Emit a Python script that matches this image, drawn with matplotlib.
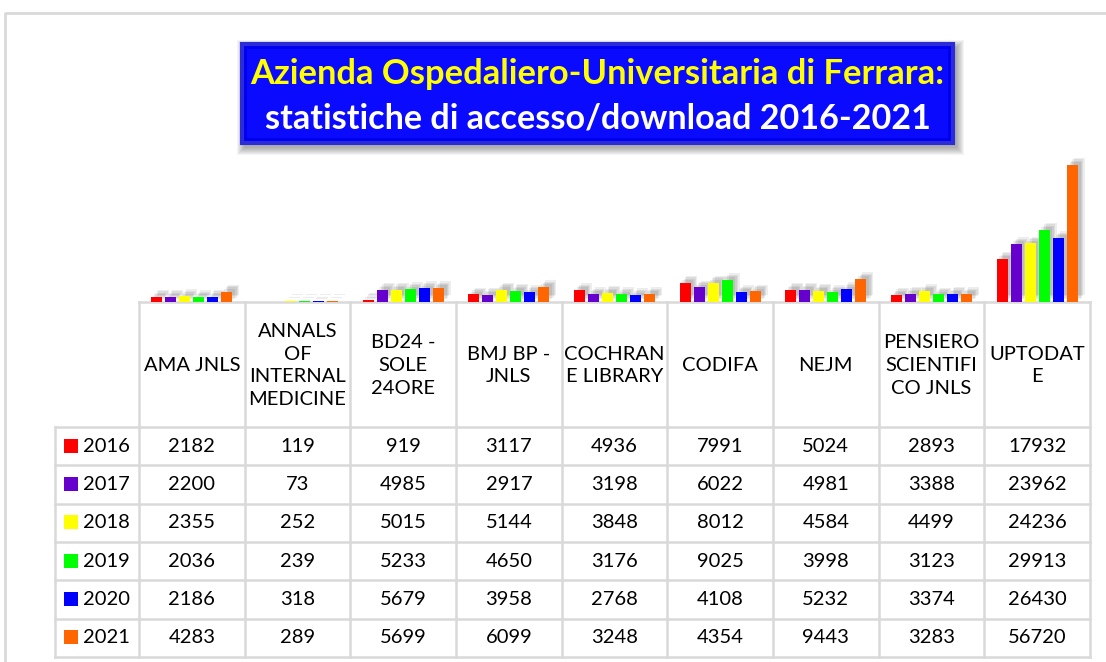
import matplotlib
matplotlib.use("Agg")
import matplotlib.pyplot as plt
import matplotlib.patheffects as pe
from matplotlib.patches import Rectangle
import numpy as np

plt.rcParams['font.family'] = ['Lato', 'DejaVu Sans']

journals = ["AMA JNLS", "ANNALS\nOF\nINTERNAL\nMEDICINE", "BD24 -\nSOLE\n24ORE",
            "BMJ BP -\nJNLS", "COCHRAN\nE LIBRARY", "CODIFA", "NEJM",
            "PENSIERO\nSCIENTIFI\nCO JNLS", "UPTODAT\nE"]
years = ["2016", "2017", "2018", "2019", "2020", "2021"]
v2016 = [2182, 119, 919, 3117, 4936, 7991, 5024, 2893, 17932]
v2017 = [2200, 73, 4985, 2917, 3198, 6022, 4981, 3388, 23962]
v2018 = [2355, 252, 5015, 5144, 3848, 8012, 4584, 4499, 24236]
v2019 = [2036, 239, 5233, 4650, 3176, 9025, 3998, 3123, 29913]
v2020 = [2186, 318, 5679, 3958, 2768, 4108, 5232, 3374, 26430]
v2021 = [4283, 289, 5699, 6099, 3248, 4354, 9443, 3283, 56720]
series = [v2016, v2017, v2018, v2019, v2020, v2021]
colors = ["#FF0000", "#6600CC", "#FFFF00", "#00FF00", "#0000FF", "#FF6600"]

W, H = 1106, 662
fig = plt.figure(figsize=(W / 100, H / 100), dpi=100)

# overlay axes in pixel coordinates for frame, title and table
lay = fig.add_axes([0, 0, 1, 1])
lay.set_xlim(0, W)
lay.set_ylim(H, 0)
lay.axis("off")

grid = "#d9d9d9"
# outer chart frame
lay.plot([5, 5, W + 5], [H + 5, 13, 13], color=grid, lw=2)

# title box with soft shadow
bx0, by0, bx1, by1 = 242, 44, 953, 143
for k in range(8, 0, -1):
    lay.add_patch(Rectangle((bx0 - k + 3, by0 - k + 4), bx1 - bx0 + 2 * k, by1 - by0 + 2 * k,
                            facecolor="black", edgecolor="none", alpha=0.045))
lay.add_patch(Rectangle((bx0, by0), bx1 - bx0, by1 - by0, facecolor="#0000F0",
                        edgecolor="#2b2bd8", lw=3))
lay.add_patch(Rectangle((bx0 + 5, by0 + 5), bx1 - bx0 - 10, by1 - by0 - 10, facecolor="#0a0aff",
                        edgecolor="none"))
lay.text((bx0 + bx1) / 2, 74, "Azienda Ospedaliero-Universitaria di Ferrara:", color="#FFFF00",
         fontsize=24.8, fontweight="bold", ha="center", va="center")
lay.text((bx0 + bx1) / 2, 118, "statistiche di accesso/download 2016-2021", color="white",
         fontsize=24.6, fontweight="bold", ha="center", va="center")

# table geometry
tx0, tx1 = 139, 1090
lx0 = 55
ty_top, ty_head = 302, 427
row_h = 38.3
ncol = len(journals)
colw = (tx1 - tx0) / ncol
ty_bot = ty_head + row_h * len(years)

lw = 1.8
for i in range(ncol + 1):
    x = tx0 + i * colw
    lay.plot([x, x], [ty_top, ty_bot], color=grid, lw=lw)
lay.plot([tx0, tx1], [ty_top, ty_top], color=grid, lw=lw)
lay.plot([lx0, lx0], [ty_head, ty_bot], color=grid, lw=lw)
for r in range(len(years) + 1):
    y = ty_head + r * row_h
    lay.plot([lx0, tx1], [y, y], color=grid, lw=lw)

for i, name in enumerate(journals):
    lay.text(tx0 + (i + 0.5) * colw, (ty_top + ty_head) / 2 + 1, name, ha="center", va="center",
             fontsize=14.5, linespacing=1.42, color="black")

for r, (yr, vals, c) in enumerate(zip(years, series, colors)):
    yc = ty_head + (r + 0.5) * row_h
    lay.add_patch(Rectangle((64, yc - 7.5), 14, 14, facecolor=c, edgecolor="none"))
    lay.text(83, yc, yr, ha="left", va="center", fontsize=14.5, color="black")
    for i, v in enumerate(vals):
        lay.text(tx0 + (i + 0.5) * colw, yc, str(v), ha="center", va="center",
                 fontsize=14.5, color="black")

# bar chart axes sitting on top of the table header
ymax = 60000
top_px = ty_top - 137 * ymax / 56720
ax = fig.add_axes([tx0 / W, 1 - ty_top / H, (tx1 - tx0) / W, (ty_top - top_px) / H])
ax.set_facecolor("none")
ax.set_xlim(-0.5, ncol - 0.5)
ax.set_ylim(0, ymax)
ax.axis("off")

x = np.arange(ncol)
step, bw = 0.133, 0.104
# soft blurred-looking shadow towards the upper right
shadow = [pe.SimplePatchShadow(offset=(d, d), shadow_rgbFace="black", alpha=0.07)
          for d in (2, 3, 4, 5)] + [pe.Normal()]
for k, (vals, c) in enumerate(zip(series, colors)):
    bars = ax.bar(x + (k - 2.5) * step, vals, width=bw, color=c, edgecolor="none")
    for b in bars:
        b.set_path_effects(shadow)

fig.savefig("out.png", dpi=100)
